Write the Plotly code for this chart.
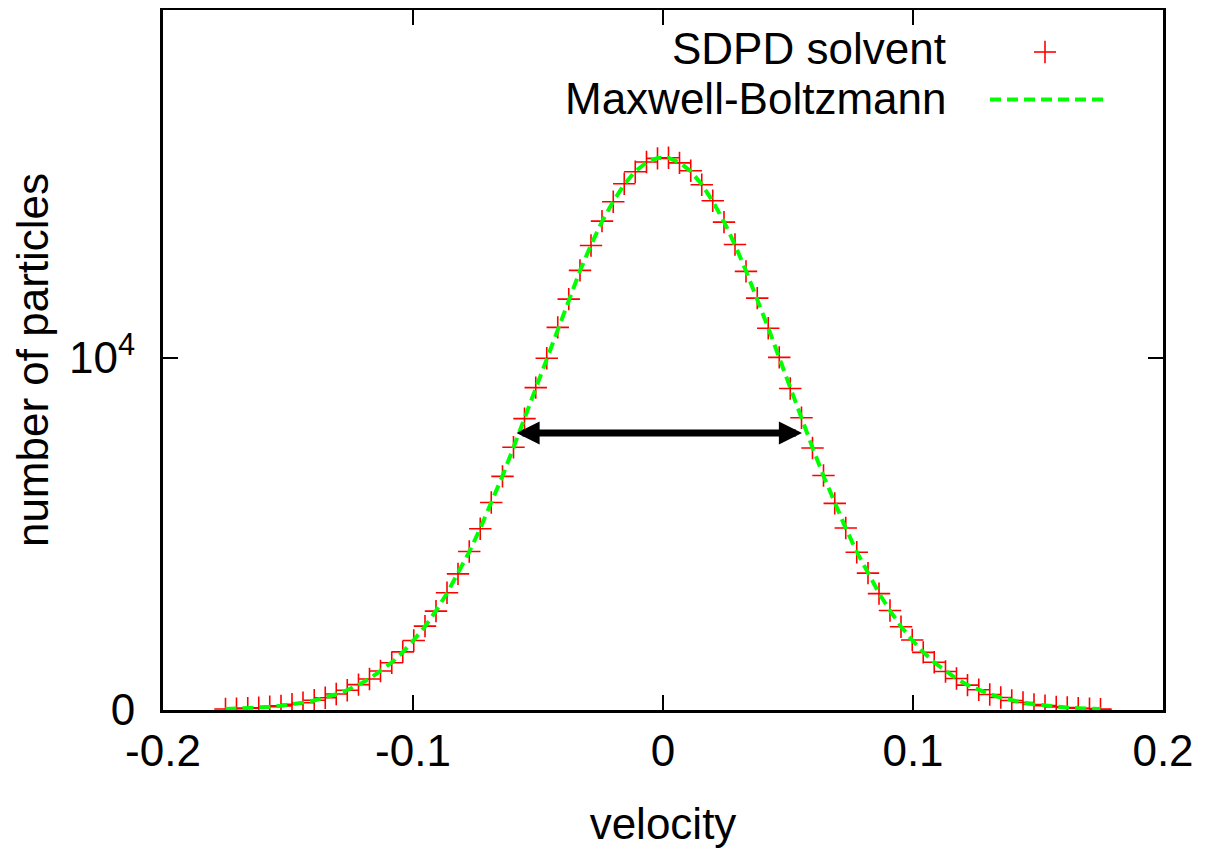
import plotly.graph_objects as go

# ---- data ----
velocity = [
    -0.1750, -0.1706, -0.1661, -0.1617, -0.1573, -0.1528, -0.1484, -0.1440, -0.1395, -0.1351,
    -0.1307, -0.1263, -0.1218, -0.1174, -0.1130, -0.1085, -0.1041, -0.0997, -0.0952, -0.0908,
    -0.0864, -0.0820, -0.0775, -0.0731, -0.0687, -0.0642, -0.0598, -0.0554, -0.0509, -0.0465,
    -0.0421, -0.0377, -0.0332, -0.0288, -0.0244, -0.0199, -0.0155, -0.0111, -0.0066, -0.0022,
    0.0022, 0.0066, 0.0111, 0.0155, 0.0199, 0.0244, 0.0288, 0.0332, 0.0377, 0.0421,
    0.0465, 0.0509, 0.0554, 0.0598, 0.0642, 0.0687, 0.0731, 0.0775, 0.0820, 0.0864,
    0.0908, 0.0952, 0.0997, 0.1041, 0.1085, 0.1130, 0.1174, 0.1218, 0.1263, 0.1307,
    0.1351, 0.1395, 0.1440, 0.1484, 0.1528, 0.1573, 0.1617, 0.1661, 0.1706, 0.1750,
]

sdpd_counts = [
    29, 35, 52, 66, 94, 118, 163, 207, 276, 346,
    455, 561, 722, 882, 1110, 1342, 1652, 1975, 2383, 2810,
    3330, 3866, 4502, 5150, 5894, 6638, 7466, 8278, 9158, 9992,
    10870, 11672, 12490, 13196, 13888, 14440, 14948, 15290, 15570, 15672,
    15690, 15542, 15318, 14920, 14466, 13860, 13224, 12462, 11700, 10843,
    10018, 9132, 8302, 7444, 6660, 5871, 5172, 4480, 3888, 3306,
    2828, 2366, 1990, 1636, 1358, 1094, 896, 708, 574, 442,
    356, 268, 213, 157, 124, 89, 70, 48, 38, 26,
]

mb_counts = [
    27, 37, 50, 68, 91, 121, 160, 210, 272, 351,
    448, 568, 714, 890, 1101, 1351, 1643, 1983, 2374, 2819,
    3318, 3876, 4491, 5161, 5882, 6649, 7455, 8290, 9145, 10005,
    10857, 11686, 12476, 13210, 13874, 14453, 14933, 15304, 15556, 15684,
    15684, 15556, 15304, 14933, 14453, 13874, 13210, 12476, 11686, 10857,
    10005, 9145, 8290, 7455, 6649, 5882, 5161, 4491, 3876, 3318,
    2819, 2374, 1983, 1643, 1351, 1101, 890, 714, 568, 448,
    351, 272, 210, 160, 121, 91, 68, 50, 37, 27,
]

x_ticks = [-0.2, -0.1, 0, 0.1, 0.2]
x_ticktext = ["-0.2", "-0.1", "0", "0.1", "0.2"]
y_ticks = [0, 10000]
y_ticktext = ["0", "10<sup>4</sup>"]

# FWHM arrow endpoints (velocity) and height (count)
fwhm_left = -0.0592
fwhm_right = 0.0556
fwhm_level = 7870

series_names = ["SDPD solvent", "Maxwell-Boltzmann"]

FONT = "Liberation Sans, Arial, sans-serif"
FS = 44

fig = go.Figure()

fig.add_trace(go.Scatter(
    x=velocity, y=sdpd_counts, mode="markers", name=series_names[0],
    marker=dict(symbol="cross-thin", size=16, color="#ff0000",
                line=dict(color="#ff0000", width=1.6)),
    showlegend=False,
))
fig.add_trace(go.Scatter(
    x=velocity, y=mb_counts, mode="lines", name=series_names[1],
    line=dict(color="#00ff00", width=4, dash="11px,6px"),
    showlegend=False,
))

# double-headed FWHM arrow
fig.add_annotation(
    x=fwhm_right, y=fwhm_level, ax=fwhm_left, ay=fwhm_level,
    xref="x", yref="y", axref="x", ayref="y",
    text="", showarrow=True, arrowhead=2, startarrowhead=2,
    arrowside="end+start", arrowwidth=7, arrowsize=0.66, startarrowsize=0.66,
    arrowcolor="#000000", standoff=0, startstandoff=0,
)

# legend (text left, key right, as in the reference)
fig.add_annotation(x=0.785, y=0.945, xref="paper", yref="paper", text=series_names[0],
                   showarrow=False, xanchor="right", yanchor="middle",
                   font=dict(family=FONT, size=FS, color="#000000"))
fig.add_annotation(x=0.785, y=0.874, xref="paper", yref="paper", text=series_names[1],
                   showarrow=False, xanchor="right", yanchor="middle",
                   font=dict(family=FONT, size=FS, color="#000000"))
# key for markers: thin red plus
fig.add_shape(type="line", xref="paper", yref="paper", x0=0.871, x1=0.893, y0=0.940, y1=0.940,
              line=dict(color="#ff0000", width=1.6))
fig.add_shape(type="line", xref="paper", yref="paper", x0=0.882, x1=0.882, y0=0.924, y1=0.956,
              line=dict(color="#ff0000", width=1.6))
# key for line
fig.add_shape(type="line", xref="paper", yref="paper", x0=0.827, x1=0.942, y0=0.872, y1=0.872,
              line=dict(color="#00ff00", width=4, dash="11px,6px"))

axis_common = dict(
    showgrid=False, zeroline=False, showline=True, linecolor="#000000", linewidth=3,
    mirror="ticks", ticks="inside", ticklen=15, tickwidth=2, tickcolor="#000000",
    tickfont=dict(family=FONT, size=FS, color="#000000"),
)

fig.update_xaxes(
    range=[-0.2, 0.2], tickmode="array", tickvals=x_ticks, ticktext=x_ticktext,
    title=dict(text="velocity", font=dict(family=FONT, size=FS, color="#000000"), standoff=36),
    **axis_common,
)
fig.update_yaxes(
    range=[0, 19886], tickmode="array", tickvals=y_ticks, ticktext=y_ticktext,
    ticklabelstandoff=16,
    title=dict(text="number of particles", font=dict(family=FONT, size=FS, color="#000000"), standoff=12),
    **axis_common,
)

# page body adds an 8px offset; plot area spans x 163-1163, y 10-710 on screen
fig.update_layout(
    width=1199, height=840,
    margin=dict(l=155, r=44, t=2, b=138, autoexpand=False),
    paper_bgcolor="#ffffff", plot_bgcolor="#ffffff",
    font=dict(family=FONT, size=FS, color="#000000"),
    showlegend=False,
)

fig.write_html("out.html")
